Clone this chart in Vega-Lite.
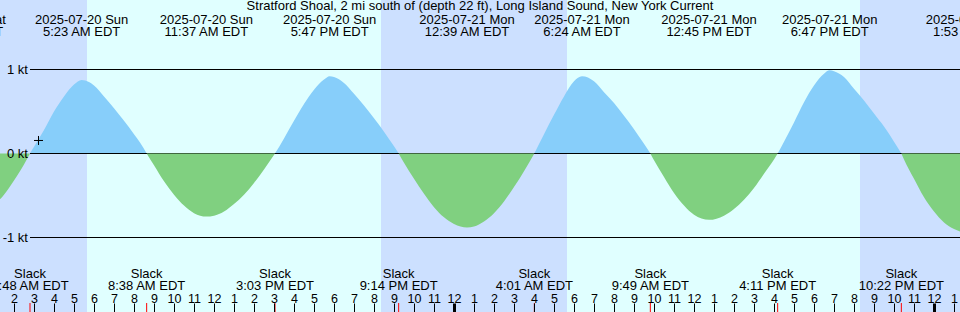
{
  "$schema": "https://vega.github.io/schema/vega-lite/v6.json",
  "width": 960,
  "height": 312,
  "autosize": {"type": "none"},
  "padding": 0,
  "background": "#ffffff",
  "config": {
    "view": {"stroke": null},
    "text": {"font": "Liberation Sans", "fontSize": 13, "color": "#000000"},
    "axisX": {"tickCount": 48, "domain": false, "grid": false, "labelFont": "Liberation Sans", "labelFontSize": 12.5, "labelColor": "#000000", "tickColor": "#000000"}
  },
  "datasets": {
    "sky": [
      {"kind": "night", "start": 1.3, "end": 5.65},
      {"kind": "day", "start": 5.65, "end": 20.35},
      {"kind": "night", "start": 20.35, "end": 29.65},
      {"kind": "day", "start": 29.65, "end": 44.3},
      {"kind": "night", "start": 44.3, "end": 49.3}
    ],
    "curve": [
      {"seg": 0, "dir": "ebb", "h": 1.0, "v": -0.62},
      {"seg": 0, "dir": "ebb", "h": 1.5, "v": -0.49},
      {"seg": 0, "dir": "ebb", "h": 2.0, "v": -0.32},
      {"seg": 0, "dir": "ebb", "h": 2.5, "v": -0.13},
      {"seg": 0, "dir": "ebb", "h": 2.8, "v": 0},
      {"seg": 1, "dir": "flood", "h": 2.8, "v": 0},
      {"seg": 1, "dir": "flood", "h": 3.0, "v": 0.08},
      {"seg": 1, "dir": "flood", "h": 3.5, "v": 0.28},
      {"seg": 1, "dir": "flood", "h": 4.0, "v": 0.5},
      {"seg": 1, "dir": "flood", "h": 4.5, "v": 0.68},
      {"seg": 1, "dir": "flood", "h": 5.0, "v": 0.82},
      {"seg": 1, "dir": "flood", "h": 5.383, "v": 0.875},
      {"seg": 1, "dir": "flood", "h": 5.75, "v": 0.85},
      {"seg": 1, "dir": "flood", "h": 6.0, "v": 0.81},
      {"seg": 1, "dir": "flood", "h": 6.5, "v": 0.68},
      {"seg": 1, "dir": "flood", "h": 7.0, "v": 0.54},
      {"seg": 1, "dir": "flood", "h": 7.5, "v": 0.39},
      {"seg": 1, "dir": "flood", "h": 8.0, "v": 0.23},
      {"seg": 1, "dir": "flood", "h": 8.3, "v": 0.13},
      {"seg": 1, "dir": "flood", "h": 8.633, "v": 0},
      {"seg": 2, "dir": "ebb", "h": 8.633, "v": 0},
      {"seg": 2, "dir": "ebb", "h": 9.0, "v": -0.14},
      {"seg": 2, "dir": "ebb", "h": 9.5, "v": -0.33},
      {"seg": 2, "dir": "ebb", "h": 10.0, "v": -0.49},
      {"seg": 2, "dir": "ebb", "h": 10.5, "v": -0.62},
      {"seg": 2, "dir": "ebb", "h": 11.0, "v": -0.71},
      {"seg": 2, "dir": "ebb", "h": 11.617, "v": -0.75},
      {"seg": 2, "dir": "ebb", "h": 12.0, "v": -0.74},
      {"seg": 2, "dir": "ebb", "h": 12.5, "v": -0.69},
      {"seg": 2, "dir": "ebb", "h": 13.0, "v": -0.6},
      {"seg": 2, "dir": "ebb", "h": 13.5, "v": -0.49},
      {"seg": 2, "dir": "ebb", "h": 14.0, "v": -0.35},
      {"seg": 2, "dir": "ebb", "h": 14.5, "v": -0.19},
      {"seg": 2, "dir": "ebb", "h": 15.05, "v": 0},
      {"seg": 3, "dir": "flood", "h": 15.05, "v": 0},
      {"seg": 3, "dir": "flood", "h": 15.5, "v": 0.18},
      {"seg": 3, "dir": "flood", "h": 16.0, "v": 0.39},
      {"seg": 3, "dir": "flood", "h": 16.5, "v": 0.59},
      {"seg": 3, "dir": "flood", "h": 17.0, "v": 0.76},
      {"seg": 3, "dir": "flood", "h": 17.5, "v": 0.88},
      {"seg": 3, "dir": "flood", "h": 17.783, "v": 0.92},
      {"seg": 3, "dir": "flood", "h": 18.0, "v": 0.91},
      {"seg": 3, "dir": "flood", "h": 18.5, "v": 0.84},
      {"seg": 3, "dir": "flood", "h": 19.0, "v": 0.71},
      {"seg": 3, "dir": "flood", "h": 19.5, "v": 0.57},
      {"seg": 3, "dir": "flood", "h": 20.0, "v": 0.42},
      {"seg": 3, "dir": "flood", "h": 20.5, "v": 0.26},
      {"seg": 3, "dir": "flood", "h": 21.0, "v": 0.085},
      {"seg": 3, "dir": "flood", "h": 21.233, "v": 0},
      {"seg": 4, "dir": "ebb", "h": 21.233, "v": 0},
      {"seg": 4, "dir": "ebb", "h": 21.5, "v": -0.11},
      {"seg": 4, "dir": "ebb", "h": 22.0, "v": -0.3},
      {"seg": 4, "dir": "ebb", "h": 22.5, "v": -0.48},
      {"seg": 4, "dir": "ebb", "h": 23.0, "v": -0.64},
      {"seg": 4, "dir": "ebb", "h": 23.5, "v": -0.76},
      {"seg": 4, "dir": "ebb", "h": 24.0, "v": -0.84},
      {"seg": 4, "dir": "ebb", "h": 24.65, "v": -0.88},
      {"seg": 4, "dir": "ebb", "h": 25.0, "v": -0.87},
      {"seg": 4, "dir": "ebb", "h": 25.5, "v": -0.81},
      {"seg": 4, "dir": "ebb", "h": 26.0, "v": -0.71},
      {"seg": 4, "dir": "ebb", "h": 26.5, "v": -0.57},
      {"seg": 4, "dir": "ebb", "h": 27.0, "v": -0.4},
      {"seg": 4, "dir": "ebb", "h": 27.5, "v": -0.21},
      {"seg": 4, "dir": "ebb", "h": 28.017, "v": 0},
      {"seg": 5, "dir": "flood", "h": 28.017, "v": 0},
      {"seg": 5, "dir": "flood", "h": 28.5, "v": 0.23},
      {"seg": 5, "dir": "flood", "h": 29.0, "v": 0.46},
      {"seg": 5, "dir": "flood", "h": 29.5, "v": 0.68},
      {"seg": 5, "dir": "flood", "h": 30.0, "v": 0.86},
      {"seg": 5, "dir": "flood", "h": 30.4, "v": 0.92},
      {"seg": 5, "dir": "flood", "h": 31.0, "v": 0.86},
      {"seg": 5, "dir": "flood", "h": 31.5, "v": 0.73},
      {"seg": 5, "dir": "flood", "h": 32.0, "v": 0.6},
      {"seg": 5, "dir": "flood", "h": 32.5, "v": 0.45},
      {"seg": 5, "dir": "flood", "h": 33.0, "v": 0.29},
      {"seg": 5, "dir": "flood", "h": 33.5, "v": 0.115},
      {"seg": 5, "dir": "flood", "h": 33.817, "v": 0},
      {"seg": 6, "dir": "ebb", "h": 33.817, "v": 0},
      {"seg": 6, "dir": "ebb", "h": 34.0, "v": -0.08},
      {"seg": 6, "dir": "ebb", "h": 34.5, "v": -0.28},
      {"seg": 6, "dir": "ebb", "h": 35.0, "v": -0.47},
      {"seg": 6, "dir": "ebb", "h": 35.5, "v": -0.62},
      {"seg": 6, "dir": "ebb", "h": 36.0, "v": -0.73},
      {"seg": 6, "dir": "ebb", "h": 36.75, "v": -0.79},
      {"seg": 6, "dir": "ebb", "h": 37.5, "v": -0.74},
      {"seg": 6, "dir": "ebb", "h": 38.0, "v": -0.66},
      {"seg": 6, "dir": "ebb", "h": 38.5, "v": -0.55},
      {"seg": 6, "dir": "ebb", "h": 39.0, "v": -0.41},
      {"seg": 6, "dir": "ebb", "h": 39.5, "v": -0.24},
      {"seg": 6, "dir": "ebb", "h": 40.0, "v": -0.07},
      {"seg": 6, "dir": "ebb", "h": 40.183, "v": 0},
      {"seg": 7, "dir": "flood", "h": 40.183, "v": 0},
      {"seg": 7, "dir": "flood", "h": 40.5, "v": 0.14},
      {"seg": 7, "dir": "flood", "h": 41.0, "v": 0.37},
      {"seg": 7, "dir": "flood", "h": 41.5, "v": 0.61},
      {"seg": 7, "dir": "flood", "h": 42.0, "v": 0.81},
      {"seg": 7, "dir": "flood", "h": 42.5, "v": 0.95},
      {"seg": 7, "dir": "flood", "h": 42.783, "v": 0.99},
      {"seg": 7, "dir": "flood", "h": 43.0, "v": 0.98},
      {"seg": 7, "dir": "flood", "h": 43.5, "v": 0.91},
      {"seg": 7, "dir": "flood", "h": 44.0, "v": 0.77},
      {"seg": 7, "dir": "flood", "h": 44.5, "v": 0.63},
      {"seg": 7, "dir": "flood", "h": 45.0, "v": 0.475},
      {"seg": 7, "dir": "flood", "h": 45.5, "v": 0.32},
      {"seg": 7, "dir": "flood", "h": 46.0, "v": 0.14},
      {"seg": 7, "dir": "flood", "h": 46.367, "v": 0},
      {"seg": 8, "dir": "ebb", "h": 46.367, "v": 0},
      {"seg": 8, "dir": "ebb", "h": 46.5, "v": -0.07},
      {"seg": 8, "dir": "ebb", "h": 47.0, "v": -0.3},
      {"seg": 8, "dir": "ebb", "h": 47.5, "v": -0.52},
      {"seg": 8, "dir": "ebb", "h": 48.0, "v": -0.69},
      {"seg": 8, "dir": "ebb", "h": 48.5, "v": -0.82},
      {"seg": 8, "dir": "ebb", "h": 49.0, "v": -0.9},
      {"seg": 8, "dir": "ebb", "h": 49.5, "v": -0.94},
      {"seg": 8, "dir": "ebb", "h": 49.883, "v": -0.95}
    ],
    "lines": [
      {"v": 1, "label": "1 kt"},
      {"v": 0, "label": "0 kt"},
      {"v": -1, "label": "-1 kt"}
    ],
    "events": [
      {"h": -0.65, "d": "2025-07-19 Sat", "t": "11:21 PM EDT"},
      {"h": 5.383, "d": "2025-07-20 Sun", "t": "5:23 AM EDT"},
      {"h": 11.617, "d": "2025-07-20 Sun", "t": "11:37 AM EDT"},
      {"h": 17.783, "d": "2025-07-20 Sun", "t": "5:47 PM EDT"},
      {"h": 24.65, "d": "2025-07-21 Mon", "t": "12:39 AM EDT"},
      {"h": 30.4, "d": "2025-07-21 Mon", "t": "6:24 AM EDT"},
      {"h": 36.75, "d": "2025-07-21 Mon", "t": "12:45 PM EDT"},
      {"h": 42.783, "d": "2025-07-21 Mon", "t": "6:47 PM EDT"},
      {"h": 49.883, "d": "2025-07-22 Tue", "t": "1:53 AM EDT"}
    ],
    "slack": [
      {"h": 2.8, "t": "2:48 AM EDT"},
      {"h": 8.633, "t": "8:38 AM EDT"},
      {"h": 15.05, "t": "3:03 PM EDT"},
      {"h": 21.233, "t": "9:14 PM EDT"},
      {"h": 28.017, "t": "4:01 AM EDT"},
      {"h": 33.817, "t": "9:49 AM EDT"},
      {"h": 40.183, "t": "4:11 PM EDT"},
      {"h": 46.367, "t": "10:22 PM EDT"}
    ],
    "title": [
      {"h": 25.3, "label": "Stratford Shoal, 2 mi south of (depth 22 ft), Long Island Sound, New York Current"}
    ],
    "now": [
      {"h": 3.225, "v": 0.155}
    ]
  },
  "layer": [
    {
      "data": {"name": "sky"},
      "mark": {"type": "rect"},
      "encoding": {
        "x": {"field": "start", "type": "quantitative", "scale": {"domain": [1.3, 49.3], "nice": false, "zero": false},
          "axis": {"orient": "top", "offset": -312, "title": null, "values": [2,3,4,5,6,7,8,9,10,11,12,13,14,15,16,17,18,19,20,21,22,23,24,25,26,27,28,29,30,31,32,33,34,35,36,37,38,39,40,41,42,43,44,45,46,47,48,49], "labelExpr": "datum.value % 12 === 0 ? '12' : '' + (datum.value % 12)", "tickSize": 9, "tickWidth": {"condition": {"test": "datum.value % 24 === 0", "value": 3}, "value": 1}, "labelBaseline": "alphabetic", "labelPadding": 1, "labelFlush": false, "labelOverlap": false, "labelBound": false, "zindex": 2}},
        "x2": {"field": "end"},
        "color": {"field": "kind", "type": "nominal", "scale": {"domain": ["night", "day"], "range": ["#cce0ff", "#e0ffff"]}, "legend": null}
      }
    },
    {
      "data": {"name": "curve"},
      "transform": [{"filter": "datum.dir === 'flood'"}],
      "mark": {"type": "area", "interpolate": "monotone", "color": "#87cefa"},
      "encoding": {
        "x": {"field": "h", "type": "quantitative", "scale": {"domain": [1.3, 49.3], "nice": false, "zero": false},
          "axis": {"orient": "top", "offset": -312, "title": null, "values": [2,3,4,5,6,7,8,9,10,11,12,13,14,15,16,17,18,19,20,21,22,23,24,25,26,27,28,29,30,31,32,33,34,35,36,37,38,39,40,41,42,43,44,45,46,47,48,49], "labelExpr": "datum.value % 12 === 0 ? '12' : '' + (datum.value % 12)", "tickSize": 9, "tickWidth": {"condition": {"test": "datum.value % 24 === 0", "value": 3}, "value": 1}, "labelBaseline": "alphabetic", "labelPadding": 1, "labelFlush": false, "labelOverlap": false, "labelBound": false, "zindex": 2}},
        "y": {"field": "v", "type": "quantitative", "scale": {"domain": [-1.8869, 1.8274], "nice": false, "zero": false}, "axis": null},
        "y2": {"datum": 0},
        "detail": {"field": "seg", "type": "nominal"}
      }
    },
    {
      "data": {"name": "lines"},
      "mark": {"type": "rule", "color": "#000000", "strokeWidth": 1},
      "encoding": {
        "x": {"datum": 2.8, "type": "quantitative", "scale": {"domain": [1.3, 49.3], "nice": false, "zero": false},
          "axis": {"orient": "top", "offset": -312, "title": null, "values": [2,3,4,5,6,7,8,9,10,11,12,13,14,15,16,17,18,19,20,21,22,23,24,25,26,27,28,29,30,31,32,33,34,35,36,37,38,39,40,41,42,43,44,45,46,47,48,49], "labelExpr": "datum.value % 12 === 0 ? '12' : '' + (datum.value % 12)", "tickSize": 9, "tickWidth": {"condition": {"test": "datum.value % 24 === 0", "value": 3}, "value": 1}, "labelBaseline": "alphabetic", "labelPadding": 1, "labelFlush": false, "labelOverlap": false, "labelBound": false, "zindex": 2}},
        "x2": {"datum": 49.3},
        "y": {"field": "v", "type": "quantitative", "scale": {"domain": [-1.8869, 1.8274], "nice": false, "zero": false}, "axis": null}
      }
    },
    {
      "data": {"name": "curve"},
      "transform": [{"filter": "datum.dir === 'ebb'"}],
      "mark": {"type": "area", "interpolate": "monotone", "color": "#80d080"},
      "encoding": {
        "x": {"field": "h", "type": "quantitative", "scale": {"domain": [1.3, 49.3], "nice": false, "zero": false},
          "axis": {"orient": "top", "offset": -312, "title": null, "values": [2,3,4,5,6,7,8,9,10,11,12,13,14,15,16,17,18,19,20,21,22,23,24,25,26,27,28,29,30,31,32,33,34,35,36,37,38,39,40,41,42,43,44,45,46,47,48,49], "labelExpr": "datum.value % 12 === 0 ? '12' : '' + (datum.value % 12)", "tickSize": 9, "tickWidth": {"condition": {"test": "datum.value % 24 === 0", "value": 3}, "value": 1}, "labelBaseline": "alphabetic", "labelPadding": 1, "labelFlush": false, "labelOverlap": false, "labelBound": false, "zindex": 2}},
        "y": {"field": "v", "type": "quantitative", "scale": {"domain": [-1.8869, 1.8274], "nice": false, "zero": false}, "axis": null},
        "y2": {"datum": 0},
        "detail": {"field": "seg", "type": "nominal"}
      }
    },
    {
      "data": {"name": "lines"},
      "mark": {"type": "text", "align": "right", "baseline": "middle"},
      "encoding": {
        "x": {"datum": 2.7, "type": "quantitative", "scale": {"domain": [1.3, 49.3], "nice": false, "zero": false},
          "axis": {"orient": "top", "offset": -312, "title": null, "values": [2,3,4,5,6,7,8,9,10,11,12,13,14,15,16,17,18,19,20,21,22,23,24,25,26,27,28,29,30,31,32,33,34,35,36,37,38,39,40,41,42,43,44,45,46,47,48,49], "labelExpr": "datum.value % 12 === 0 ? '12' : '' + (datum.value % 12)", "tickSize": 9, "tickWidth": {"condition": {"test": "datum.value % 24 === 0", "value": 3}, "value": 1}, "labelBaseline": "alphabetic", "labelPadding": 1, "labelFlush": false, "labelOverlap": false, "labelBound": false, "zindex": 2}},
        "y": {"field": "v", "type": "quantitative", "scale": {"domain": [-1.8869, 1.8274], "nice": false, "zero": false}, "axis": null},
        "text": {"field": "label"}
      }
    },
    {
      "data": {"name": "slack"},
      "mark": {"type": "rule", "color": "#ff0000", "strokeWidth": 1},
      "encoding": {
        "x": {"field": "h", "type": "quantitative", "scale": {"domain": [1.3, 49.3], "nice": false, "zero": false},
          "axis": {"orient": "top", "offset": -312, "title": null, "values": [2,3,4,5,6,7,8,9,10,11,12,13,14,15,16,17,18,19,20,21,22,23,24,25,26,27,28,29,30,31,32,33,34,35,36,37,38,39,40,41,42,43,44,45,46,47,48,49], "labelExpr": "datum.value % 12 === 0 ? '12' : '' + (datum.value % 12)", "tickSize": 9, "tickWidth": {"condition": {"test": "datum.value % 24 === 0", "value": 3}, "value": 1}, "labelBaseline": "alphabetic", "labelPadding": 1, "labelFlush": false, "labelOverlap": false, "labelBound": false, "zindex": 2}},
        "y": {"datum": -1.78, "type": "quantitative", "scale": {"domain": [-1.8869, 1.8274], "nice": false, "zero": false}, "axis": null},
        "y2": {"datum": -1.8869}
      }
    },
    {
      "data": {"name": "events"},
      "mark": {"type": "text", "align": "center", "baseline": "alphabetic"},
      "encoding": {
        "x": {"field": "h", "type": "quantitative", "scale": {"domain": [1.3, 49.3], "nice": false, "zero": false},
          "axis": {"orient": "top", "offset": -312, "title": null, "values": [2,3,4,5,6,7,8,9,10,11,12,13,14,15,16,17,18,19,20,21,22,23,24,25,26,27,28,29,30,31,32,33,34,35,36,37,38,39,40,41,42,43,44,45,46,47,48,49], "labelExpr": "datum.value % 12 === 0 ? '12' : '' + (datum.value % 12)", "tickSize": 9, "tickWidth": {"condition": {"test": "datum.value % 24 === 0", "value": 3}, "value": 1}, "labelBaseline": "alphabetic", "labelPadding": 1, "labelFlush": false, "labelOverlap": false, "labelBound": false, "zindex": 2}},
        "y": {"datum": 1.5417, "type": "quantitative", "scale": {"domain": [-1.8869, 1.8274], "nice": false, "zero": false}, "axis": null},
        "text": {"field": "d"}
      }
    },
    {
      "data": {"name": "events"},
      "mark": {"type": "text", "align": "center", "baseline": "alphabetic"},
      "encoding": {
        "x": {"field": "h", "type": "quantitative", "scale": {"domain": [1.3, 49.3], "nice": false, "zero": false},
          "axis": {"orient": "top", "offset": -312, "title": null, "values": [2,3,4,5,6,7,8,9,10,11,12,13,14,15,16,17,18,19,20,21,22,23,24,25,26,27,28,29,30,31,32,33,34,35,36,37,38,39,40,41,42,43,44,45,46,47,48,49], "labelExpr": "datum.value % 12 === 0 ? '12' : '' + (datum.value % 12)", "tickSize": 9, "tickWidth": {"condition": {"test": "datum.value % 24 === 0", "value": 3}, "value": 1}, "labelBaseline": "alphabetic", "labelPadding": 1, "labelFlush": false, "labelOverlap": false, "labelBound": false, "zindex": 2}},
        "y": {"datum": 1.393, "type": "quantitative", "scale": {"domain": [-1.8869, 1.8274], "nice": false, "zero": false}, "axis": null},
        "text": {"field": "t"}
      }
    },
    {
      "data": {"name": "slack"},
      "mark": {"type": "text", "align": "center", "baseline": "alphabetic"},
      "encoding": {
        "x": {"field": "h", "type": "quantitative", "scale": {"domain": [1.3, 49.3], "nice": false, "zero": false},
          "axis": {"orient": "top", "offset": -312, "title": null, "values": [2,3,4,5,6,7,8,9,10,11,12,13,14,15,16,17,18,19,20,21,22,23,24,25,26,27,28,29,30,31,32,33,34,35,36,37,38,39,40,41,42,43,44,45,46,47,48,49], "labelExpr": "datum.value % 12 === 0 ? '12' : '' + (datum.value % 12)", "tickSize": 9, "tickWidth": {"condition": {"test": "datum.value % 24 === 0", "value": 3}, "value": 1}, "labelBaseline": "alphabetic", "labelPadding": 1, "labelFlush": false, "labelOverlap": false, "labelBound": false, "zindex": 2}},
        "y": {"datum": -1.486, "type": "quantitative", "scale": {"domain": [-1.8869, 1.8274], "nice": false, "zero": false}, "axis": null},
        "text": {"value": "Slack"}
      }
    },
    {
      "data": {"name": "slack"},
      "mark": {"type": "text", "align": "center", "baseline": "alphabetic"},
      "encoding": {
        "x": {"field": "h", "type": "quantitative", "scale": {"domain": [1.3, 49.3], "nice": false, "zero": false},
          "axis": {"orient": "top", "offset": -312, "title": null, "values": [2,3,4,5,6,7,8,9,10,11,12,13,14,15,16,17,18,19,20,21,22,23,24,25,26,27,28,29,30,31,32,33,34,35,36,37,38,39,40,41,42,43,44,45,46,47,48,49], "labelExpr": "datum.value % 12 === 0 ? '12' : '' + (datum.value % 12)", "tickSize": 9, "tickWidth": {"condition": {"test": "datum.value % 24 === 0", "value": 3}, "value": 1}, "labelBaseline": "alphabetic", "labelPadding": 1, "labelFlush": false, "labelOverlap": false, "labelBound": false, "zindex": 2}},
        "y": {"datum": -1.625, "type": "quantitative", "scale": {"domain": [-1.8869, 1.8274], "nice": false, "zero": false}, "axis": null},
        "text": {"field": "t"}
      }
    },
    {
      "data": {"name": "title"},
      "mark": {"type": "text", "align": "center", "baseline": "alphabetic"},
      "encoding": {
        "x": {"field": "h", "type": "quantitative", "scale": {"domain": [1.3, 49.3], "nice": false, "zero": false},
          "axis": {"orient": "top", "offset": -312, "title": null, "values": [2,3,4,5,6,7,8,9,10,11,12,13,14,15,16,17,18,19,20,21,22,23,24,25,26,27,28,29,30,31,32,33,34,35,36,37,38,39,40,41,42,43,44,45,46,47,48,49], "labelExpr": "datum.value % 12 === 0 ? '12' : '' + (datum.value % 12)", "tickSize": 9, "tickWidth": {"condition": {"test": "datum.value % 24 === 0", "value": 3}, "value": 1}, "labelBaseline": "alphabetic", "labelPadding": 1, "labelFlush": false, "labelOverlap": false, "labelBound": false, "zindex": 2}},
        "y": {"datum": 1.708, "type": "quantitative", "scale": {"domain": [-1.8869, 1.8274], "nice": false, "zero": false}, "axis": null},
        "text": {"field": "label"}
      }
    },
    {
      "data": {"name": "now"},
      "mark": {"type": "point", "shape": "M-1,0L1,0M0,-1L0,1", "size": 81, "filled": false, "stroke": "#000000", "strokeWidth": 1, "opacity": 1},
      "encoding": {
        "x": {"field": "h", "type": "quantitative", "scale": {"domain": [1.3, 49.3], "nice": false, "zero": false},
          "axis": {"orient": "top", "offset": -312, "title": null, "values": [2,3,4,5,6,7,8,9,10,11,12,13,14,15,16,17,18,19,20,21,22,23,24,25,26,27,28,29,30,31,32,33,34,35,36,37,38,39,40,41,42,43,44,45,46,47,48,49], "labelExpr": "datum.value % 12 === 0 ? '12' : '' + (datum.value % 12)", "tickSize": 9, "tickWidth": {"condition": {"test": "datum.value % 24 === 0", "value": 3}, "value": 1}, "labelBaseline": "alphabetic", "labelPadding": 1, "labelFlush": false, "labelOverlap": false, "labelBound": false, "zindex": 2}},
        "y": {"field": "v", "type": "quantitative", "scale": {"domain": [-1.8869, 1.8274], "nice": false, "zero": false}, "axis": null}
      }
    }
  ]
}
